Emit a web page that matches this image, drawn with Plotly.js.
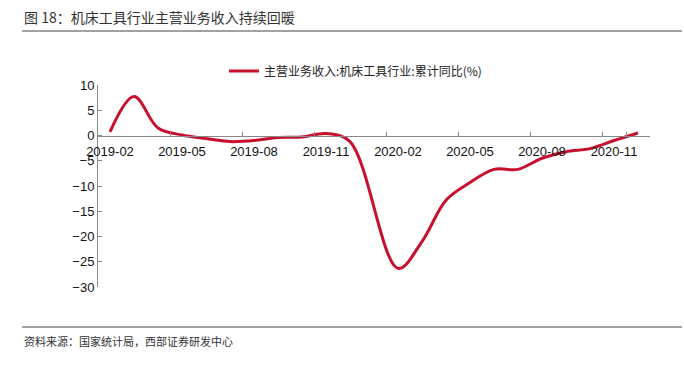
<!DOCTYPE html>
<html>
<head>
<meta charset="utf-8">
<script src="https://cdn.plot.ly/plotly-3.0.1.min.js"></script>
<style>html,body{margin:0;padding:0;background:#fff;}#chart{width:684px;height:365px;}</style>
</head>
<body>
<div id="chart"></div>
<script>
const months = ["2019-02","2019-03","2019-04","2019-05","2019-06","2019-07","2019-08","2019-09","2019-10","2019-11","2019-12",
  "2020-01","2020-02","2020-03","2020-04","2020-05","2020-06","2020-07","2020-08","2020-09","2020-10","2020-11","2020-12"];
const revenueYoY = [0.7, 7.7, 1.5, 0.1, -0.6, -1.2, -1.0, -0.4, -0.3, 0.4, -1.2,
  null, -26.3, -21.0, -12.8, -9.3, -6.7, -6.7, -4.5, -3.2, -2.6, -1.0, 0.5];
const tickLabels = ["2019-02","2019-05","2019-08","2019-11","2020-02","2020-05","2020-08","2020-11"];
const seriesName = "主营业务收入:机床工具行业:累计同比(%)";
const titleText = "图 18：机床工具行业主营业务收入持续回暖";
const sourceText = "资料来源：国家统计局，西部证券研发中心";

const L = 98, R = 650, T = 85, B = 287, W = 684, H = 365;
const px = x => (x - L) / (R - L);
const py = y => (B - y) / (B - T);
const font = "Liberation Sans, Arial, Noto Sans CJK SC, sans-serif";
const cjk = "Noto Sans CJK SC, sans-serif";

const trace = {
  x: months, y: revenueYoY, type: "scatter", mode: "lines", name: seriesName,
  connectgaps: true,
  line: {color: "#c8102e", width: 3, shape: "spline", smoothing: 1}
};

const layout = {
  width: W, height: H,
  margin: {l: L, r: W - R, t: T, b: H - B},
  paper_bgcolor: "#fff", plot_bgcolor: "#fff",
  font: {family: font, size: 13, color: "#111"},
  showlegend: true,
  legend: {orientation: "h", x: px(224), y: py(71), xanchor: "left", yanchor: "middle",
    font: {family: cjk, size: 12, color: "#222"}, bgcolor: "rgba(0,0,0,0)"},
  xaxis: {
    type: "category", categoryorder: "array", categoryarray: months,
    range: [-0.5, months.length - 0.5],
    tickmode: "array", tickvals: tickLabels, ticktext: tickLabels, tickangle: 0,
    tickson: "boundaries", ticks: "inside", ticklen: 4, tickcolor: "#888",
    ticklabelstandoff: 4,
    showline: true, linecolor: "#888", linewidth: 1,
    showgrid: false, zeroline: false,
    anchor: "free", position: 0.75,
    tickfont: {family: font, size: 13, color: "#111"}
  },
  yaxis: {
    range: [-30, 10], tickmode: "array", tickvals: [10,5,0,-5,-10,-15,-20,-25,-30],
    ticks: "inside", ticklen: 4, tickcolor: "#888",
    showline: true, linecolor: "#888", linewidth: 1,
    showgrid: false, zeroline: false,
    tickfont: {family: font, size: 13, color: "#111"}
  },
  shapes: [
    {type: "line", xref: "paper", yref: "paper", x0: px(22), x1: px(682), y0: py(31), y1: py(31),
      line: {color: "#444", width: 1}},
    {type: "line", xref: "paper", yref: "paper", x0: px(22), x1: px(682), y0: py(327), y1: py(327),
      line: {color: "#444", width: 1}}
  ],
  annotations: [
    {text: titleText, xref: "paper", yref: "paper", x: px(22), y: py(17), xanchor: "left", yanchor: "middle",
      showarrow: false, font: {family: cjk, size: 14, color: "#333"}},
    {text: sourceText, xref: "paper", yref: "paper", x: px(22), y: py(341), xanchor: "left", yanchor: "middle",
      showarrow: false, font: {family: cjk, size: 11, color: "#333"}}
  ]
};

Plotly.newPlot("chart", [trace], layout, {displayModeBar: false, staticPlot: true});
</script>
</body>
</html>
